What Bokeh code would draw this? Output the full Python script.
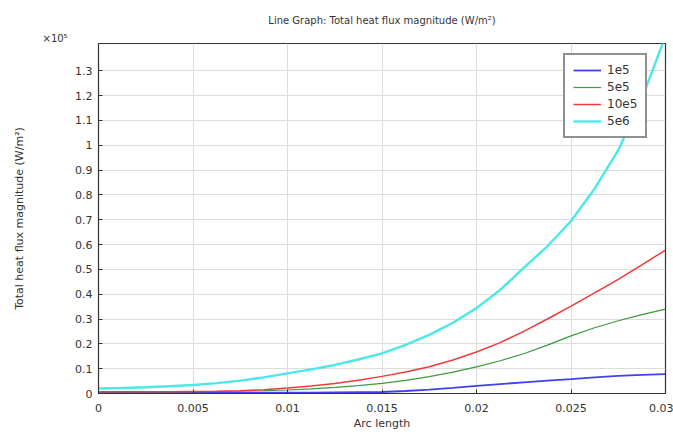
from bokeh.plotting import figure
from bokeh.models import FixedTicker, Legend, LegendItem, Title, Range1d
from bokeh.embed import file_html
from bokeh.resources import INLINE

# Arc length (m)
arc_length = [0, 0.00125, 0.0025, 0.00375, 0.005, 0.00625, 0.0075, 0.00875, 0.01, 0.01125,
              0.0125, 0.01375, 0.015, 0.01625, 0.0175, 0.01875, 0.02, 0.02125, 0.0225, 0.02375,
              0.025, 0.02625, 0.0275, 0.02875, 0.03]

# Total heat flux magnitude, in units of 1e5 W/m^2
flux_1e5 = [0.002, 0.002, 0.002, 0.002, 0.002, 0.002, 0.002, 0.003, 0.003, 0.003,
            0.004, 0.005, 0.006, 0.010, 0.016, 0.023, 0.031, 0.038, 0.045, 0.052,
            0.058, 0.065, 0.071, 0.075, 0.078]
flux_5e5 = [0.007, 0.007, 0.007, 0.007, 0.007, 0.008, 0.009, 0.011, 0.014, 0.019,
            0.025, 0.032, 0.041, 0.053, 0.068, 0.086, 0.107, 0.132, 0.160, 0.195,
            0.232, 0.265, 0.293, 0.318, 0.340]
flux_10e5 = [0.007, 0.007, 0.007, 0.007, 0.008, 0.009, 0.011, 0.015, 0.022, 0.030,
             0.040, 0.053, 0.069, 0.087, 0.108, 0.135, 0.167, 0.205, 0.250, 0.300,
             0.352, 0.405, 0.460, 0.518, 0.578]
flux_5e6 = [0.020, 0.022, 0.025, 0.029, 0.034, 0.042, 0.052, 0.065, 0.081, 0.097,
            0.115, 0.137, 0.162, 0.196, 0.236, 0.285, 0.344, 0.417, 0.506, 0.593,
            0.695, 0.825, 0.980, 1.188, 1.440]

series_labels = ["1e5", "5e5", "10e5", "5e6"]
series_colors = ["#4040ee", "#3c9a3c", "#f03a3a", "#4ce8e8"]
series_widths = [1.8, 1.2, 1.5, 2.4]

x_ticks = [0, 0.005, 0.01, 0.015, 0.02, 0.025, 0.03]
x_tick_labels = ["0", "0.005", "0.01", "0.015", "0.02", "0.025", "0.03"]
y_ticks = [0, 0.1, 0.2, 0.3, 0.4, 0.5, 0.6, 0.7, 0.8, 0.9, 1.0, 1.1, 1.2, 1.3]
y_tick_labels = ["0", "0.1", "0.2", "0.3", "0.4", "0.5", "0.6", "0.7", "0.8", "0.9", "1", "1.1", "1.2", "1.3"]

FONT = "DejaVu Sans"
TXT = "#333333"

p = figure(width=673, height=434, output_backend="svg", toolbar_location=None,
           x_range=Range1d(0, 0.03), y_range=Range1d(0, 1.41),
           min_border_left=98, min_border_right=8, min_border_top=43, min_border_bottom=41,
           title="Line Graph: Total heat flux magnitude (W/m²)")
p.title.align = "center"
p.title.text_font = FONT
p.title.text_font_size = "10px"
p.title.text_font_style = "normal"
p.title.text_color = TXT
p.title.standoff = 9
p.outline_line_color = "#333333"
p.outline_line_width = 1.2

exp_title = Title(text="×10⁵", align="left", offset=-56, standoff=0,
                  text_font=FONT, text_font_size="10px", text_font_style="normal", text_color=TXT)
p.add_layout(exp_title, "above")

for ax, ticks, labels in ((p.xaxis[0], x_ticks, x_tick_labels), (p.yaxis[0], y_ticks, y_tick_labels)):
    ax.ticker = FixedTicker(ticks=ticks)
    ax.major_label_overrides = dict(zip(ticks, labels))
    ax.major_tick_in = 4
    ax.major_tick_out = 0
    ax.minor_tick_line_color = None
    ax.major_label_text_font = FONT
    ax.major_label_text_font_size = "11px"
    ax.major_label_text_color = TXT
    ax.axis_label_text_font = FONT
    ax.axis_label_text_font_size = "11px"
    ax.axis_label_text_font_style = "normal"
    ax.axis_label_text_color = TXT
    ax.axis_line_color = "#333333"
    ax.major_tick_line_color = "#333333"

p.xaxis.axis_label = "Arc length"
p.xaxis.axis_label_standoff = 2
p.xaxis.major_label_standoff = 10
p.yaxis.axis_label = "Total heat flux magnitude (W/m²)"
p.yaxis.axis_label_standoff = 46
p.yaxis.major_label_standoff = 6

p.grid.grid_line_color = "#dcdcdc"
p.xgrid.ticker = FixedTicker(ticks=x_ticks)
p.ygrid.ticker = FixedTicker(ticks=y_ticks)

items = []
for ys, lab, col, w in zip([flux_1e5, flux_5e5, flux_10e5, flux_5e6], series_labels, series_colors, series_widths):
    r = p.line(arc_length, ys, line_color=col, line_width=w)
    items.append(LegendItem(label=lab, renderers=[r]))

legend = Legend(items=items, location=(465, 255), border_line_color="#222222", border_line_width=2,
                label_text_font=FONT, label_text_font_size="12px", label_text_color=TXT,
                glyph_width=28, glyph_height=14, label_height=14, label_standoff=6,
                spacing=3, padding=8, background_fill_alpha=1.0, margin=0)
p.add_layout(legend, "center")

open("out.html", "w").write(file_html(p, INLINE))
